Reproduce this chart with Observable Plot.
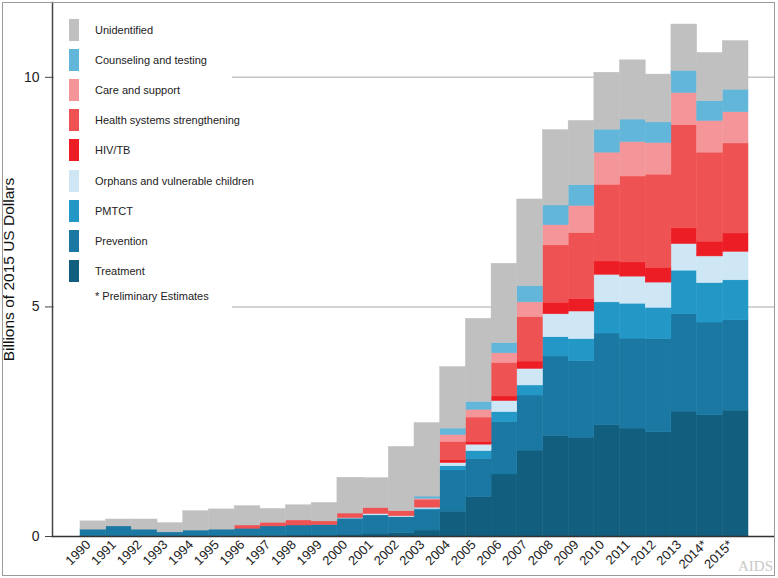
<!DOCTYPE html>
<html>
<head>
<meta charset="utf-8">
<script src="https://cdn.jsdelivr.net/npm/d3@7"></script>
<script src="https://cdn.jsdelivr.net/npm/@observablehq/plot@0.6"></script>
<style>
  html, body { margin: 0; padding: 0; background: #fff; }
  #wrap { position: relative; width: 778px; height: 578px; overflow: hidden;
          font-family: "Liberation Sans", Arial, Helvetica, sans-serif; }
  #legend { position: absolute; left: 54px; top: 15px; width: 178px; height: 296px;
            background: #fff; }
  .row { height: 30.1px; display: flex; align-items: center; }
  .sw { width: 10px; height: 22px; margin-left: 15px; margin-right: 16px; flex: none; }
  .lab { font-size: 11px; color: #222; white-space: nowrap; }
  .note { font-size: 11px; color: #222; margin-left: 41px; height: 20px; line-height: 20px; }
  #mark { position: absolute; left: 738px; top: 558px; font-family: "Liberation Serif", "Times New Roman", serif;
          font-size: 15px; color: #c9c9c9; }
  #border { position: absolute; left: 2px; top: 2px; width: 773px; height: 574px;
            border: 1px solid #9a9a9a; box-sizing: border-box; pointer-events: none; }
</style>
</head>
<body>
<div id="wrap">
  <div id="chart"></div>
  <div id="legend"></div>
  <div id="mark">AIDS</div>
  <div id="border"></div>
</div>
<script>
const years = ["1990","1991","1992","1993","1994","1995","1996","1997","1998","1999",
  "2000","2001","2002","2003","2004","2005","2006","2007","2008","2009",
  "2010","2011","2012","2013","2014*","2015*"];

// Stack order, bottom to top
const series = ["Treatment","Prevention","PMTCT","Orphans and vulnerable children","HIV/TB",
  "Health systems strengthening","Care and support","Counseling and testing","Unidentified"];

const colors = ["#125e7e","#1a78a3","#2398c7","#cfe7f5","#ed1d25","#ef5253","#f49699","#62b6d9","#c0c0c0"];

const treatment  = [0.01,0.01,0.01,0.01,0.01,0.01,0.01,0.01,0.02,0.02,0.04,0.06,0.07,0.13,0.54,0.86,1.35,1.87,2.19,2.15,2.42,2.35,2.27,2.72,2.64,2.74];
const prevention = [0.14,0.21,0.14,0.08,0.12,0.14,0.16,0.21,0.22,0.23,0.35,0.40,0.35,0.45,0.90,0.83,1.14,1.20,1.73,1.67,2.00,1.96,2.03,2.12,2.02,1.97];
const pmtct      = [0,0,0,0,0,0,0,0,0,0,0,0,0,0.02,0.09,0.17,0.22,0.22,0.42,0.48,0.68,0.76,0.68,0.95,0.86,0.87];
const ovc        = [0,0,0,0,0,0,0,0,0,0,0.01,0.03,0.02,0.03,0.07,0.14,0.24,0.36,0.50,0.60,0.60,0.59,0.55,0.58,0.58,0.62];
const hivtb      = [0,0,0,0,0,0,0,0,0,0,0,0,0,0.01,0.06,0.06,0.10,0.16,0.25,0.27,0.29,0.31,0.32,0.34,0.32,0.40];
const hss        = [0,0,0,0,0,0,0.07,0.08,0.11,0.08,0.10,0.13,0.11,0.16,0.40,0.53,0.73,0.97,1.25,1.44,1.67,1.87,2.03,2.25,1.94,1.96];
const care       = [0,0,0,0,0,0,0,0,0,0,0,0,0,0.02,0.15,0.17,0.21,0.32,0.44,0.59,0.70,0.75,0.69,0.70,0.69,0.68];
const counseling = [0,0,0,0,0,0,0,0,0,0,0,0,0,0.05,0.14,0.17,0.22,0.35,0.43,0.45,0.50,0.49,0.45,0.48,0.43,0.49];
const unidentified = [0.18,0.15,0.22,0.20,0.42,0.44,0.42,0.30,0.33,0.40,0.78,0.65,1.40,1.60,1.34,1.81,1.73,1.89,1.64,1.40,1.24,1.29,1.04,1.01,1.05,1.06];

const values = [treatment, prevention, pmtct, ovc, hivtb, hss, care, counseling, unidentified];
const yTicks = [0, 5, 10];
const yLabel = "Billions of 2015 US Dollars";
const note = "* Preliminary Estimates";

const table = [];
series.forEach((s, si) => {
  values[si].forEach((v, i) => { if (v > 0) table.push({year: years[i], series: s, value: v}); });
});

const chart = Plot.plot({
  width: 778,
  height: 578,
  marginLeft: 52,
  marginRight: 3,
  marginTop: 2,
  marginBottom: 42,
  style: {fontFamily: "'Liberation Sans', Arial, Helvetica, sans-serif", color: "#222", background: "#fff"},
  x: {type: "band", domain: years, padding: 0, round: false, insetLeft: 28, insetRight: 27},
  y: {domain: [0, 11.63]},
  color: {domain: series, range: colors},
  marks: [
    Plot.gridY([5, 10], {stroke: "#c6c6c6", strokeOpacity: 1, strokeWidth: 1.5}),
    Plot.barY(table, {x: "year", y: "value", fill: "series", stroke: "series", strokeWidth: 0.5}),
    Plot.ruleY([0], {stroke: "#333", strokeWidth: 1.5}),
    Plot.frame({anchor: "left", stroke: "#444", strokeWidth: 1.5}),
    Plot.axisY({ticks: yTicks, tickSize: 7, tickPadding: 6, fontSize: 14, label: null, stroke: "#444"}),
    Plot.axisX({tickRotate: -45, tickSize: 0, tickPadding: 6, fontSize: 13, dx: -5, label: null}),
    Plot.text([yLabel], {frameAnchor: "left", textAnchor: "middle", rotate: -90, dx: -43, fontSize: 15.5, fill: "#111"})
  ]
});
document.getElementById("chart").appendChild(chart);

// Legend (top to bottom = reverse stack order)
const legend = document.getElementById("legend");
for (let i = series.length - 1; i >= 0; i--) {
  const row = document.createElement("div");
  row.className = "row";
  const sw = document.createElement("div");
  sw.className = "sw";
  sw.style.background = colors[i];
  const lab = document.createElement("span");
  lab.className = "lab";
  lab.textContent = series[i];
  row.appendChild(sw); row.appendChild(lab);
  legend.appendChild(row);
}
const n = document.createElement("div");
n.className = "note";
n.textContent = note;
legend.appendChild(n);
</script>
</body>
</html>
